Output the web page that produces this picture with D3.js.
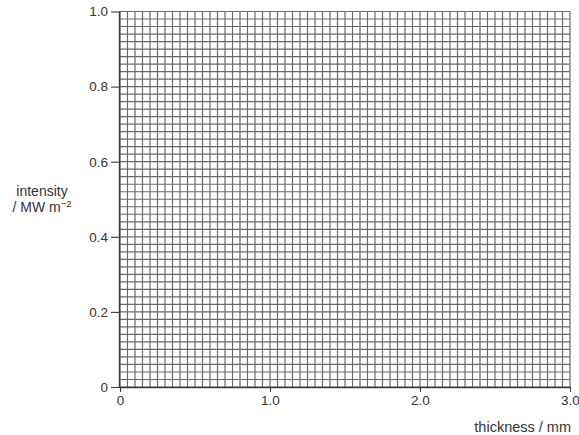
<!DOCTYPE html>
<html>
<head>
<meta charset="utf-8">
<script src="https://cdn.jsdelivr.net/npm/d3@7"></script>
<style>
  html, body { margin: 0; padding: 0; background: #fff; }
  svg { display: block; }
  text { font-family: "Liberation Sans", Arial, sans-serif; fill: #333; }
</style>
</head>
<body>
<svg id="chart" width="579" height="435"></svg>
<script>
// Axis ranges and labels
const xDomain = [0, 3.0];
const yDomain = [0, 1.0];
const xTicks = [0, 1.0, 2.0, 3.0];
const xTickLabels = ["0", "1.0", "2.0", "3.0"];
const yTicks = [0, 0.2, 0.4, 0.6, 0.8, 1.0];
const yTickLabels = ["0", "0.2", "0.4", "0.6", "0.8", "1.0"];
// Graph-paper subdivisions (60 columns, 50 rows)
const xGridStep = 0.05;
const yGridStep = 0.02;
const xTitle = "thickness / mm";
const yTitleLines = ["intensity", "/ MW m"];

const svg = d3.select("#chart");
const plotLeft = 120, plotRight = 570, plotTop = 11.5, plotBottom = 387;

const x = d3.scaleLinear().domain(xDomain).range([plotLeft, plotRight]);
const y = d3.scaleLinear().domain(yDomain).range([plotBottom, plotTop]);

// grid lines
const xGrid = d3.range(0, Math.round((xDomain[1] - xDomain[0]) / xGridStep) + 1).map(i => xDomain[0] + i * xGridStep);
const yGrid = d3.range(0, Math.round((yDomain[1] - yDomain[0]) / yGridStep) + 1).map(i => yDomain[0] + i * yGridStep);

const grid = svg.append("g").attr("stroke", "#6a6a6a").attr("stroke-width", 1.2);
grid.selectAll("line.v").data(xGrid).join("line")
  .attr("class", "v")
  .attr("x1", d => x(d)).attr("x2", d => x(d))
  .attr("y1", y(yDomain[0])).attr("y2", y(yDomain[1]));
grid.selectAll("line.h").data(yGrid).join("line")
  .attr("class", "h")
  .attr("x1", x(xDomain[0])).attr("x2", x(xDomain[1]))
  .attr("y1", d => y(d)).attr("y2", d => y(d));

// axes
const yAxis = d3.axisLeft(y).tickValues(yTicks)
  .tickFormat((d, i) => yTickLabels[i]).tickSize(9).tickPadding(3);
const xAxis = d3.axisBottom(x).tickValues(xTicks)
  .tickFormat((d, i) => xTickLabels[i]).tickSize(5).tickPadding(3);

const gy = svg.append("g").attr("transform", `translate(${plotLeft},0)`).call(yAxis);
const gx = svg.append("g").attr("transform", `translate(0,${plotBottom})`).call(xAxis);

[gy, gx].forEach(g => {
  g.select(".domain").attr("stroke", "#3a3a3a").attr("stroke-width", 1.4);
  g.selectAll(".tick line").attr("stroke", "#3a3a3a").attr("stroke-width", 1.1);
  g.selectAll(".tick text")
    .attr("font-family", "Liberation Sans, Arial, sans-serif")
    .attr("font-size", 13.5).attr("fill", "#333");
});
gy.select(".domain").attr("d", `M-0.5,${plotBottom}V${plotTop}`);
gx.select(".domain").attr("d", `M${plotLeft},0.5H${plotRight}`);

// axis titles
svg.append("text")
  .attr("x", 571).attr("y", 432)
  .attr("text-anchor", "end").attr("font-size", 14.5)
  .text(xTitle);

svg.append("text")
  .attr("x", 42).attr("y", 196)
  .attr("text-anchor", "middle").attr("font-size", 14)
  .text(yTitleLines[0]);

const unit = svg.append("text")
  .attr("x", 42).attr("y", 212)
  .attr("text-anchor", "middle").attr("font-size", 14);
unit.append("tspan").text(yTitleLines[1]);
unit.append("tspan").attr("dy", -5).attr("font-size", 9.5).text("\u2212" + "2");
</script>
</body>
</html>
